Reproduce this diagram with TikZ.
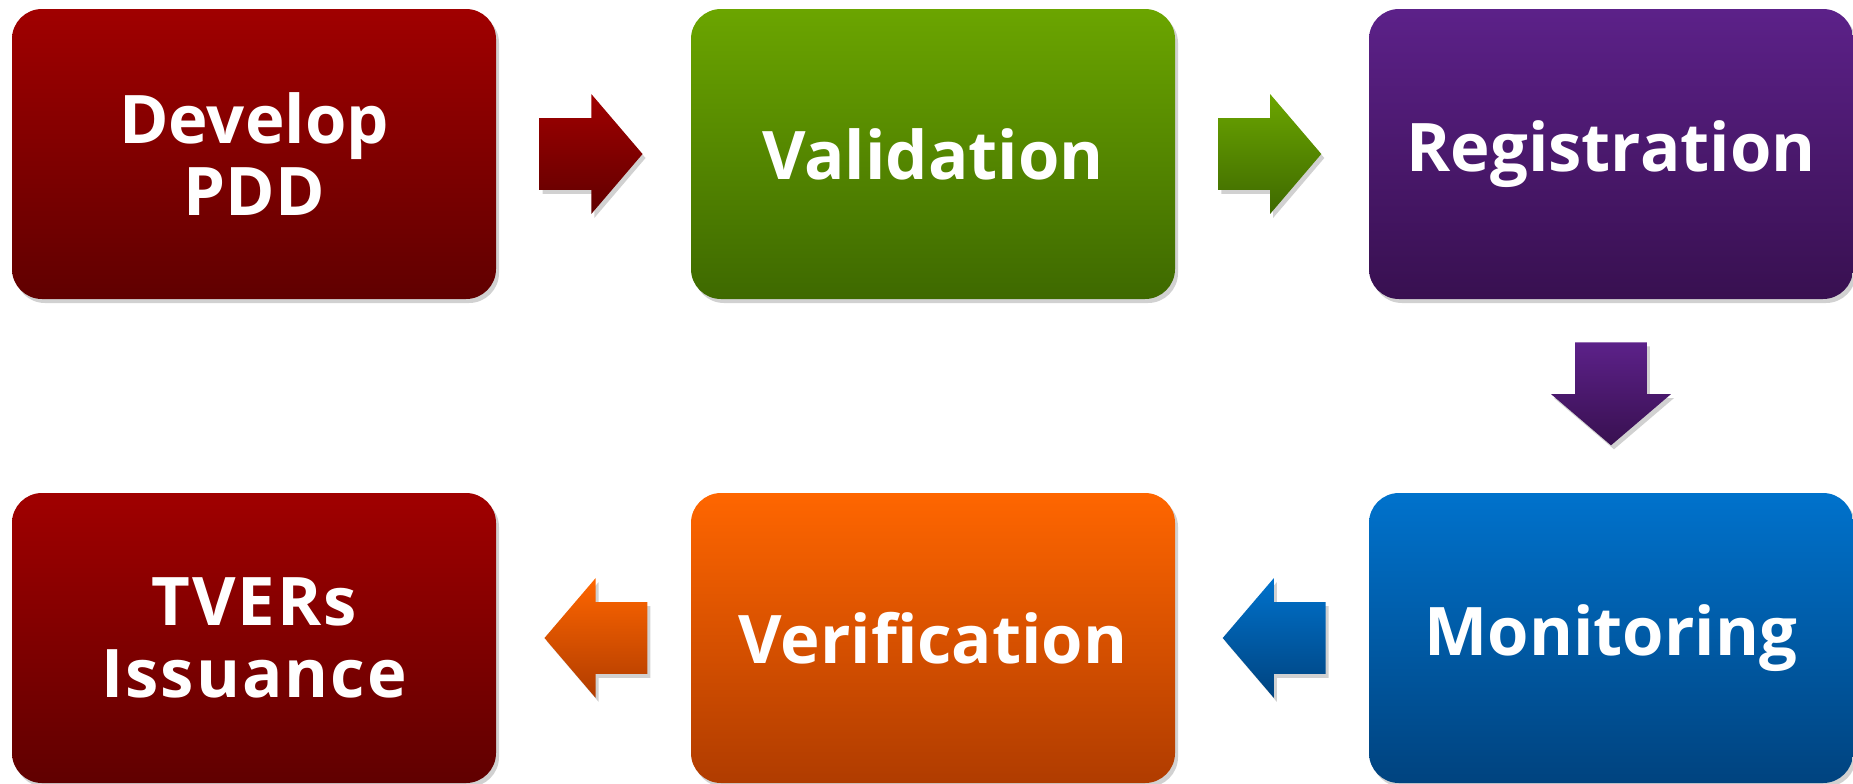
\documentclass[tikz,border=0pt]{standalone}
\usepackage{fontspec}
\setmainfont{Open Sans}[Ligatures=CommonOff]
\newfontfamily\widesans[LetterSpace=3, Ligatures=CommonOff]{Open Sans}
\usetikzlibrary{shapes.arrows,shadows,calc}
\definecolor{ruby}{RGB}{160, 0, 0}
\definecolor{rubydeep}{RGB}{96, 0, 0}
\definecolor{leaf}{RGB}{107, 165, 0}
\definecolor{leafdeep}{RGB}{62, 105, 0}
\definecolor{grape}{RGB}{92, 33, 137}
\definecolor{grapedeep}{RGB}{56, 16, 80}
\definecolor{ocean}{RGB}{0, 114, 204}
\definecolor{oceandeep}{RGB}{0, 67, 127}
\definecolor{tangerine}{RGB}{255, 102, 0}
\definecolor{tangerinedeep}{RGB}{176, 60, 0}

\begin{document}
\begin{tikzpicture}[x=0.5pt, y=-0.5pt,
    stage/.style={rounded corners=15pt, minimum width=242pt, minimum height=145pt,
                  inner sep=0pt, align=center, text=white,
                  font=\bfseries\fontsize{33.5}{36}\selectfont,
                  drop shadow={shadow xshift=1.5pt, shadow yshift=-2pt, opacity=0.18, fill=black}},
    flow/.style={single arrow, single arrow head extend=12pt, single arrow tip angle=99,
                 minimum height=51.5pt, inner xsep=0pt, inner ysep=17.75pt, anchor=tail,
                 drop shadow={shadow xshift=1.5pt, shadow yshift=-2pt, opacity=0.18, fill=black}},
    flowdown/.style={flow, shape border rotate=270, inner xsep=17.75pt, inner ysep=0pt}]
    \useasboundingbox (0,0) rectangle (1853,783);
    % Top row
    \node[stage, top color=ruby,      bottom color=rubydeep]      (develop)      at ( 254, 154) {Develop\\PDD};
    \node[stage, top color=leaf,      bottom color=leafdeep]      (validation)   at ( 933, 154) {Validation};
    \node[stage, top color=grape,     bottom color=grapedeep]     (registration) at (1611, 154) {Registration};
    % Bottom row
    \node[stage, top color=ocean,     bottom color=oceandeep]     (monitoring)   at (1611, 638) {Monitoring};
    \node[stage, top color=tangerine, bottom color=tangerinedeep] (verification) at ( 933, 638) {Verification};
    \node[stage, top color=ruby,      bottom color=rubydeep,
          font=\widesans\bfseries\fontsize{33.5}{36}\selectfont]  (issuance)     at ( 254, 638) {TVERs\\Issuance};
    % Arrows between the stages (tail sits a bit nearer the source box)
    \node[flow, top color=ruby,      bottom color=rubydeep]                         at ($(develop.east)!0.22!(validation.west)$) {};
    \node[flow, top color=leaf,      bottom color=leafdeep]                         at ($(validation.east)!0.22!(registration.west)$) {};
    \node[flowdown, top color=grape, bottom color=grapedeep]                        at ($(registration.south)!0.22!(monitoring.north)$) {};
    \node[flow, top color=ocean,     bottom color=oceandeep,     shape border rotate=180] at ($(monitoring.west)!0.22!(verification.east)$) {};
    \node[flow, top color=tangerine, bottom color=tangerinedeep, shape border rotate=180] at ($(verification.west)!0.22!(issuance.east)$) {};
\end{tikzpicture}
\end{document}
